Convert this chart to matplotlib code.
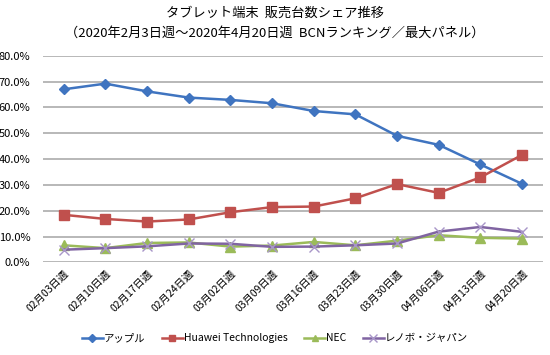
import matplotlib
matplotlib.use("Agg")
import matplotlib.pyplot as plt
from matplotlib.ticker import FuncFormatter

plt.rcParams['font.family'] = ['Noto Sans CJK JP', 'DejaVu Sans']

weeks = ["02月03日週", "02月10日週", "02月17日週", "02月24日週", "03月02日週", "03月09日週",
         "03月16日週", "03月23日週", "03月30日週", "04月06日週", "04月13日週", "04月20日週"]
apple = [67.0, 69.2, 66.2, 63.8, 62.9, 61.6, 58.6, 57.3, 49.0, 45.5, 37.9, 30.4]
huawei = [18.4, 16.8, 15.8, 16.6, 19.4, 21.4, 21.6, 24.8, 30.3, 26.9, 32.9, 41.6]
nec = [6.6, 5.5, 7.5, 7.7, 6.1, 6.5, 7.9, 6.6, 8.4, 10.5, 9.5, 9.2]
lenovo = [4.9, 5.5, 6.2, 7.3, 7.2, 6.0, 6.1, 6.6, 7.3, 11.9, 13.7, 11.8]
series_names = ["アップル", "Huawei Technologies", "NEC", "レノボ・ジャパン"]
yticks = [0, 10, 20, 30, 40, 50, 60, 70, 80]

fig = plt.figure(figsize=(5.5, 3.55), dpi=100)
ax = fig.add_axes([0.078, 0.261, 0.909, 0.582])

x = list(range(len(weeks)))
styles = [
    (apple, "#3F74C0", "D", 5.5, series_names[0]),
    (huawei, "#C0504D", "s", 6.5, series_names[1]),
    (nec, "#9BBB59", "^", 6.5, series_names[2]),
    (lenovo, "#8064A2", "x", 7, series_names[3]),
]
for vals, col, mk, ms, name in styles:
    kw = dict(color=col, marker=mk, markersize=ms, linewidth=1.8, label=name)
    if mk == "x":
        kw.update(markeredgewidth=1.0, markeredgecolor="#A896C8")
    ax.plot(x, vals, **kw)

ax.set_xlim(-0.5, len(weeks) - 0.5)
ax.set_ylim(0, 80)
ax.set_yticks(yticks)
ax.yaxis.set_major_formatter(FuncFormatter(lambda v, p: f"{v:.1f}%"))
ax.set_xticks(x)
ax.set_xticklabels(weeks, rotation=45, ha="right", rotation_mode="anchor", fontsize=7.5)
ax.tick_params(axis="y", labelsize=8, length=0, pad=9)
ax.tick_params(axis="x", length=0, pad=4)
ax.grid(axis="y", color="#ABABAB", linewidth=1.2)
ax.set_axisbelow(True)
for s in ax.spines.values():
    s.set_visible(False)

fig.text(0.5, 0.963, "タブレット端末  販売台数シェア推移", ha="center", va="center", fontsize=9.5)
fig.text(0.5, 0.907, "（2020年2月3日週～2020年4月20日週  BCNランキング／最大パネル）",
         ha="center", va="center", fontsize=9.5)

fig.legend(loc="center", bbox_to_anchor=(0.5, 0.047), ncol=4, frameon=False,
           fontsize=7.5, handlelength=2.0, handletextpad=0.1, columnspacing=1.6,
           markerscale=0.75)

fig.savefig("out.png", dpi=100)
